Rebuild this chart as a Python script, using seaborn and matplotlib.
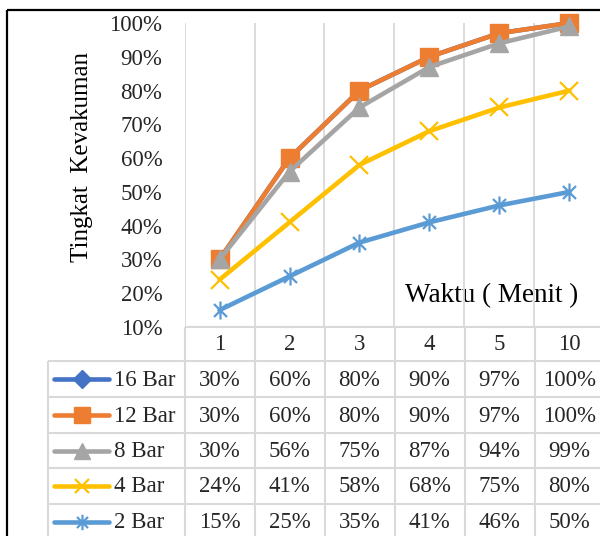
import matplotlib
matplotlib.use("Agg")
import matplotlib.pyplot as plt
from matplotlib.path import Path
import seaborn as sns
import pandas as pd

# Data
waktu = ["1", "2", "3", "4", "5", "10"]
seri = ["16 Bar", "12 Bar", "8 Bar", "4 Bar", "2 Bar"]
bar16 = [30, 60, 80, 90, 97, 100]
bar12 = [30, 60, 80, 90, 97, 100]
bar8 = [30, 56, 75, 87, 94, 99]
bar4 = [24, 41, 58, 68, 75, 80]
bar2 = [15, 25, 35, 41, 46, 50]
nilai = [bar16, bar12, bar8, bar4, bar2]
y_ticks = [10, 20, 30, 40, 50, 60, 70, 80, 90, 100]

# asterisk marker: an X with a vertical stroke
d = 0.72
asterisk = Path([(0, -1), (0, 1), (-d, -d), (d, d), (-d, d), (d, -d)],
                [Path.MOVETO, Path.LINETO] * 3)

warna = {"16 Bar": "#4472C4", "12 Bar": "#ED7D31", "8 Bar": "#A5A5A5",
         "4 Bar": "#FFC000", "2 Bar": "#5B9BD5"}
penanda = {"16 Bar": "D", "12 Bar": "s", "8 Bar": "^", "4 Bar": "x",
           "2 Bar": asterisk}
ukuran = {"16 Bar": 8, "12 Bar": 13, "8 Bar": 13, "4 Bar": 12.5, "2 Bar": 13}

rows = []
for s, vals in zip(seri, nilai):
    for w, v in zip(waktu, vals):
        rows.append({"Waktu": w, "Nilai": v / 100, "Seri": s})
df = pd.DataFrame(rows)

sns.set_theme(style="white")
plt.rcParams["font.family"] = ["Liberation Serif", "DejaVu Serif"]
FS = 16.5
FS_TITLE = 19.5
GRID = "#D9D9D9"

W, H = 600, 536
fig = plt.figure(figsize=(W / 100, H / 100), dpi=100)
fig.patch.set_facecolor("white")

# overlay in pixel coordinates for frame, titles and data table
ov = fig.add_axes([0, 0, 1, 1])
ov.set_xlim(0, W)
ov.set_ylim(H, 0)
ov.axis("off")

left, right, top, bottom = 184.5, 604.5, 23, 327
ax = fig.add_axes([left / W, 1 - bottom / H, (right - left) / W, (bottom - top) / H])
ax.patch.set_alpha(0)

sns.lineplot(data=df, x="Waktu", y="Nilai", hue="Seri", hue_order=seri,
             palette=warna, sort=False, linewidth=3.3, legend=False, ax=ax)
for line, s in zip(ax.lines, seri):
    line.set_marker(penanda[s])
    line.set_markeredgecolor(warna[s])
    line.set_markerfacecolor(warna[s])
    line.set_markersize(ukuran[s])
    line.set_markeredgewidth(1.6 if s in ("4 Bar", "2 Bar") else 1)
    line.set_clip_on(False)

n = len(waktu)
ax.set_xlim(-0.5, n - 0.5)
ax.set_ylim(0.1, 1.0)
ax.set_yticks([t / 100 for t in y_ticks])
ax.set_yticklabels([f"{t}%" for t in y_ticks], fontsize=FS)
ax.tick_params(axis="y", length=0, pad=16)
ax.set_xticks([])
ax.set_xlabel("")
ax.set_ylabel("")
for sp in ax.spines.values():
    sp.set_visible(False)
for i in range(n + 1):
    ax.axvline(i - 0.5, color=GRID, lw=1.3, zorder=0)

ov.text(82, 157.5, "Tingkat  Kevakuman", rotation=90, ha="center", va="center",
        fontsize=18, color="black")
ov.text(492, 296, "Waktu ( Menit )", ha="center", va="center", fontsize=FS_TITLE,
        color="black")

# outer frame
ov.plot([7, W], [10, 10], color="black", lw=1.6, solid_capstyle="butt")
ov.plot([7, 7], [10, H], color="black", lw=1.6, solid_capstyle="butt")

# data table
col_w = (right - left) / n
row_y = [361, 397, 433, 468, 504, 540]
tkw = dict(color=GRID, lw=1.5, solid_capstyle="butt", zorder=1)
ov.plot([left, W], [bottom, bottom], **tkw)
for y in row_y:
    ov.plot([48, W], [y, y], **tkw)
ov.plot([48, 48], [row_y[0], H], **tkw)
for i in range(n + 1):
    ov.plot([left + i * col_w] * 2, [bottom, H], **tkw)

for j, w in enumerate(waktu):
    ov.text(left + (j + 0.5) * col_w, (bottom + row_y[0]) / 2 + 1, w,
            ha="center", va="center", fontsize=FS)

for r, (s, vals) in enumerate(zip(seri, nilai)):
    yc = (row_y[r] + row_y[r + 1]) / 2
    ov.plot([54, 109], [yc, yc], color=warna[s], lw=3.3, solid_capstyle="round",
            zorder=3)
    m = penanda[s]
    key_ms = 9 if s == "16 Bar" else ukuran[s] * 0.85
    ov.plot([81.5], [yc], marker=m, color=warna[s], ms=key_ms,
            mec=warna[s], mew=1.6 if s in ("4 Bar", "2 Bar") else 1, zorder=4)
    ov.text(114, yc + 1, s, ha="left", va="center", fontsize=FS)
    for j, v in enumerate(vals):
        ov.text(left + (j + 0.5) * col_w, yc + 1, f"{v}%", ha="center",
                va="center", fontsize=FS)

fig.savefig("out.png", dpi=100)
